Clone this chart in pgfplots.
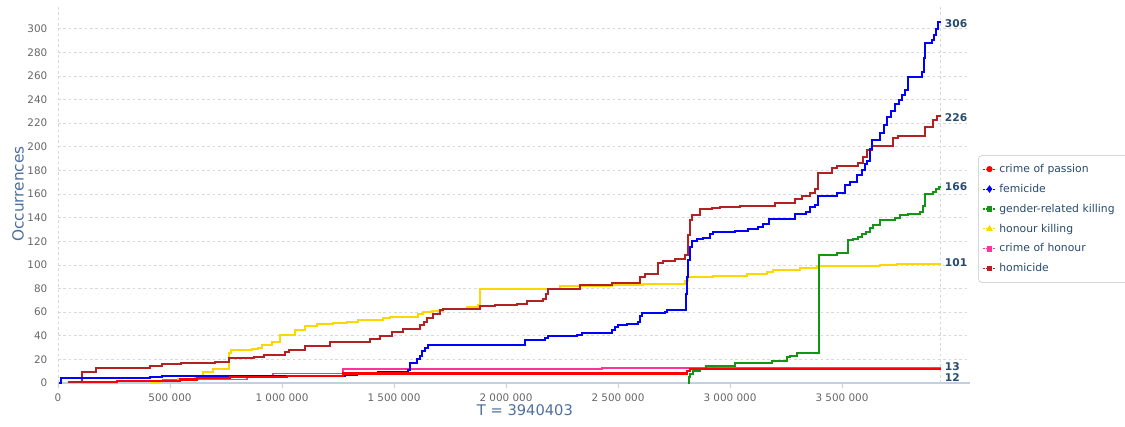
\documentclass[border=0pt]{standalone}
\usepackage{pgfplots}
\pgfplotsset{compat=1.18}
\usepackage{fontspec}
\setmainfont{DejaVu Sans}
\definecolor{cpass}{HTML}{FF0000}
\definecolor{fem}{HTML}{0000FF}
\definecolor{gend}{HTML}{139613}
\definecolor{honk}{HTML}{FFD700}
\definecolor{choh}{HTML}{FF3399}
\definecolor{homi}{HTML}{B22222}
\definecolor{axisblue}{HTML}{C0D0E0}
\definecolor{gridgray}{HTML}{D8D8D8}
\definecolor{ticktxt}{HTML}{666666}
\definecolor{titleblue}{HTML}{4D6F9B}
\definecolor{navy}{HTML}{274B6D}

\begin{document}
\begin{tikzpicture}
\begin{axis}[
  name=ax,
  scale only axis,
  width=684pt, height=283.5pt,
  xmin=0, xmax=4071400, ymin=0, ymax=320,
  axis x line*=bottom, axis y line*=left,
  x axis line style={draw=axisblue, line width=0.8pt, -},
  y axis line style={draw=none},
  xtick={0,500000,1000000,1500000,2000000,2500000,3000000,3500000},
  xticklabels={0,500 000,1 000 000,1 500 000,2 000 000,2 500 000,3 000 000,3 500 000},
  scaled x ticks=false,
  ytick={0,20,...,300},
  /pgf/number format/assume math mode=true,
  ymajorgrids,
  grid style={draw=gridgray, dash pattern=on 2pt off 2pt, line width=0.5pt},
  x tick style={draw=axisblue, line width=0.6pt},
  y tick style={draw=none},
  tick align=outside,
  major tick length=3.5pt,
  ticklabel style={font=\fontsize{7.8}{9}\selectfont, text=ticktxt},
  yticklabel style={xshift=-1pt},
  xticklabel style={yshift=-1pt},
  clip=false,
  legend style={at={(axis description cs:1.0088,0.603)}, anchor=north west,
    draw=gray!45, rounded corners=3pt, fill=white,
    font=\fontsize{8.1}{9.5}\selectfont\color{navy},
    row sep=3.3pt, inner xsep=3pt, inner ysep=4.5pt, cells={anchor=west},
    text width=112pt},
  legend image code/.code={
    \draw[mark repeat=2, mark phase=2, #1] plot coordinates {(0pt,0pt) (5pt,0pt) (10pt,0pt)};},
]
\addlegendimage{color=cpass, line width=0.8pt, dash pattern=on 1.5pt off 1pt, mark=*, mark size=1.9pt, mark options={solid}}
\addlegendentry{crime of passion}
\addlegendimage{color=fem, line width=0.8pt, dash pattern=on 1.5pt off 1pt, mark=diamond*, mark size=2.2pt, mark options={solid}}
\addlegendentry{femicide}
\addlegendimage{color=gend, line width=0.8pt, dash pattern=on 1.5pt off 1pt, mark=square*, mark size=1.6pt, mark options={solid}}
\addlegendentry{gender-related killing}
\addlegendimage{color=honk, line width=0.8pt, dash pattern=on 1.5pt off 1pt, mark=triangle*, mark size=2.2pt, mark options={solid}}
\addlegendentry{honour killing}
\addlegendimage{color=choh, line width=0.8pt, dash pattern=on 1.5pt off 1pt, mark=square*, mark size=1.6pt, mark options={solid}}
\addlegendentry{crime of honour}
\addlegendimage{color=homi, line width=0.8pt, dash pattern=on 1.5pt off 1pt, mark=square*, mark size=1.6pt, mark options={solid}}
\addlegendentry{homicide}

% vertical dashed lines
\draw[gridgray, dash pattern=on 2pt off 2pt, line width=0.5pt] (axis cs:0,0) -- (axis cs:0,320);
\draw[gridgray, dash pattern=on 2pt off 2pt, line width=0.5pt] (axis cs:3940403,0) -- (axis cs:3940403,320);

% crime of honour (pink)
\addplot[forget plot, const plot, color=choh, line width=1.4pt, no marks] coordinates {
(267900,2) (468800,3) (843800,6) (959800,8) (1272300,12) (2428600,13) (3940403,13)};

% honour killing (yellow)
\addplot[forget plot, const plot, color=honk, line width=1.5pt, no marks] coordinates {
(410700,1) (455400,2) (535700,3) (611600,5) (647300,9) (692000,12) (763400,25) (772300,28)
(866100,29) (892900,30) (910700,32) (955400,35) (991100,41) (1058000,45) (1102700,48)
(1156300,50) (1227700,51) (1290200,52) (1339300,53) (1450900,55) (1482100,56) (1607100,58)
(1629500,60) (1669600,61) (1718800,63) (1825900,64) (1875000,66) (1883900,80) (2241100,82)
(2473200,83) (2611600,84) (2799100,86) (2812500,90) (2924100,91) (3075900,92) (3165200,94)
(3191900,96) (3312500,97) (3388400,99) (3669600,100) (3745500,101) (3940403,101)};

% gender-related killing (green)
\addplot[forget plot, const plot, color=gend, line width=1.5pt, no marks] coordinates {
(2812500,0) (2817000,5) (2821400,8) (2834800,10) (2866100,12) (2892900,14) (3022300,17)
(3187500,19) (3254500,22) (3267900,23) (3299100,25) (3397300,108) (3477700,110) (3526800,121)
(3549100,122) (3571400,124) (3589300,126) (3607100,128) (3625000,131) (3638400,134)
(3669600,138) (3736600,140) (3758900,142) (3794600,143) (3848200,145) (3861600,150)
(3870500,160) (3906200,162) (3919600,164) (3933000,166) (3940403,166)};

% homicide (brown)
\addplot[forget plot, const plot, color=homi, line width=1.5pt, no marks] coordinates {
(44600,1) (107100,9) (169600,13) (410700,14) (464300,16) (549100,17) (700900,18) (763400,21)
(875000,22) (919600,24) (1013400,26) (1031300,28) (1102700,31) (1214300,35) (1392900,37)
(1437500,40) (1491100,43) (1540200,46) (1616100,49) (1633900,52) (1647300,55) (1674100,58)
(1705400,62) (1718800,63) (1883900,65) (1950900,66) (2049100,67) (2093800,69) (2165200,71)
(2178600,75) (2187500,80) (2330400,83) (2473200,85) (2598200,90) (2620500,92) (2678600,102)
(2700900,103) (2754500,105) (2799100,108) (2812500,125) (2821400,138) (2830400,142)
(2866100,147) (2919700,148) (2955400,149) (3044600,150) (3200900,152) (3290200,156)
(3321400,158) (3357100,161) (3379500,164) (3392900,178) (3455400,182) (3477700,184)
(3571400,186) (3593800,191) (3611600,197) (3634000,201) (3727700,207) (3750000,209)
(3870500,217) (3906200,223) (3924100,226) (3940403,226)};

% femicide (blue)
\addplot[forget plot, const plot, color=fem, line width=1.5pt, no marks] coordinates {
(4464,0) (13400,4) (410700,5) (464300,6) (1281200,7) (1334800,8) (1428600,9) (1562500,11)
(1571400,17) (1602700,20) (1616100,23) (1625000,27) (1638400,30) (1651800,32) (2084800,36)
(2174100,38) (2187500,40) (2316900,41) (2339300,42) (2473200,45) (2486600,47) (2500000,49)
(2540200,50) (2589300,52) (2598200,57) (2607100,59) (2709800,60) (2718700,62) (2803600,75)
(2808000,90) (2812500,104) (2821400,115) (2830400,120) (2852700,122) (2879500,123)
(2910700,126) (2924100,128) (3022300,129) (3080400,130) (3125000,132) (3147300,135)
(3174100,139) (3290200,143) (3339300,145) (3357100,149) (3379500,151) (3392900,158)
(3477700,161) (3513400,168) (3535700,170) (3567000,176) (3589300,180) (3602700,185)
(3611600,188) (3625000,198) (3634000,206) (3669600,212) (3687500,218) (3700900,225)
(3718800,230) (3736600,236) (3754500,240) (3767900,244) (3781300,248) (3794600,259)
(3857100,263) (3866100,275) (3870500,288) (3901800,290) (3910700,295) (3919600,300)
(3928600,306) (3940403,306)};

% crime of passion (red)
\addplot[forget plot, const plot, color=cpass, line width=1.6pt, no marks] coordinates {
(107100,1) (263400,2) (544600,3) (620500,4) (767900,5) (1022300,6) (1272300,8)
(2808000,10) (2821400,12) (3940403,12)};

% end labels
\begin{scope}[every node/.style={anchor=west, font=\fontsize{8}{9}\selectfont\bfseries, text=navy, inner sep=0pt, xshift=3pt}]
\node at (axis cs:3940403,304) {306};
\node at (axis cs:3940403,225) {226};
\node at (axis cs:3940403,166) {166};
\node at (axis cs:3940403,102) {101};
\node at (axis cs:3940403,14) {13};
\node at (axis cs:3940403,5) {12};
\end{scope}

\node[rotate=90, font=\fontsize{11.5}{13}\selectfont, text=titleblue] at (axis description cs:-0.0439,0.5) {Occurrences};
\node[font=\fontsize{11}{13}\selectfont, text=titleblue] at (axis description cs:0.512,-0.0714) {T = 3940403};
\end{axis}
\pgfresetboundingbox
\path[use as bounding box] (ax.south west) ++(-43.5pt,-32.25pt) rectangle ++(843.75pt,319.5pt);
\end{tikzpicture}
\end{document}
